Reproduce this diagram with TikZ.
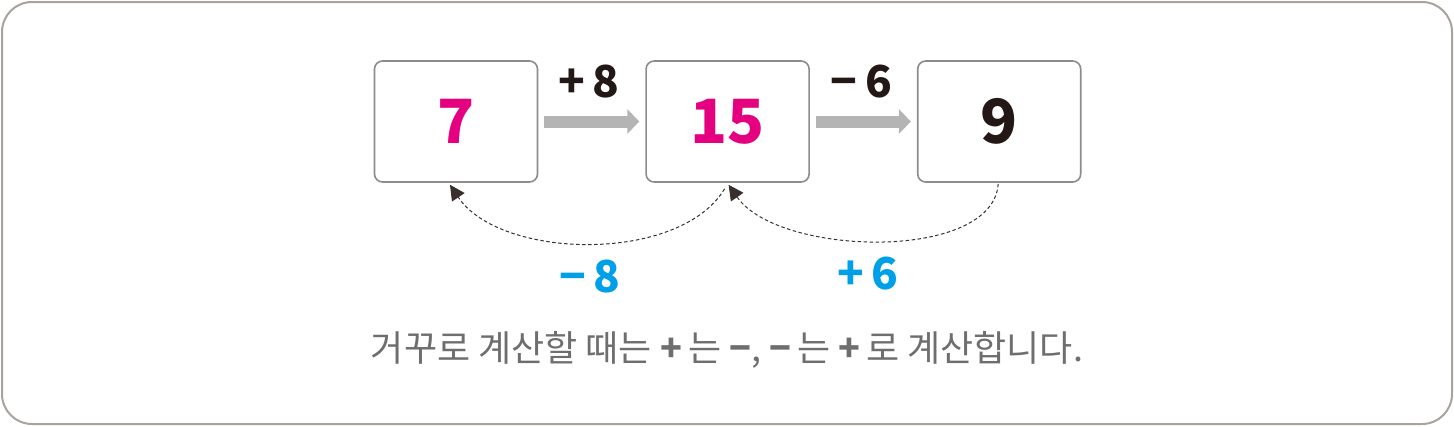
\documentclass[tikz,border=0pt]{standalone}
\usepackage{fontspec}
\setmainfont{Noto Sans CJK KR}
\usepackage{xcolor}
\usepackage{tikz}
\usetikzlibrary{positioning,arrows.meta,calc}

\definecolor{framegray}{HTML}{A8A39D}
\definecolor{boxgray}{HTML}{8C8C8C}
\definecolor{arrowgray}{HTML}{B4B4B4}
\definecolor{numpink}{HTML}{E4007F}
\definecolor{numblue}{HTML}{00A0E9}
\definecolor{numdark}{HTML}{231815}
\definecolor{notegray}{HTML}{6E6E6E}

\begin{document}
\begin{tikzpicture}[x=1pt,y=-1pt,
    numbox/.style={draw=boxgray, line width=1.6pt, rounded corners=8pt,
        minimum width=163pt, minimum height=121pt, inner sep=0pt,
        font=\fontsize{61}{61}\selectfont\bfseries},
    flowarrow/.style={draw=arrowgray, line width=12pt, shorten <=6pt, shorten >=6pt,
        -{Triangle[length=12pt,width=24pt]}},
    backarc/.style={draw=numdark!90, line width=1pt, dash pattern=on 3.5pt off 2.5pt,
        -{Triangle[length=15pt,width=15pt]}},
    oplabel/.style={inner sep=0pt, font=\fontsize{44}{44}\selectfont\bfseries}]
    \useasboundingbox (0,0) rectangle (1454,426);
    \draw[framegray, line width=2pt, rounded corners=30pt] (2,2) rectangle (1452,424);

    % the three boxes
    \node[numbox, text=numpink] (n7) at (456,121.5) {7};
    \node[numbox, text=numpink, right=107pt of n7] (n15) {15};
    \node[numbox, text=numdark, right=107pt of n15] (n9) {9};

    % forward steps
    \draw[flowarrow] (n7) -- (n15)
        node[oplabel, midway, above=17pt, xshift=-3pt, text=numdark] (p8) {+\,8};
    \draw[flowarrow] (n15) -- (n9)
        node[oplabel, midway, above=17pt, xshift=-2pt, text=numdark] (m6) {−\,6};

    % going back
    \draw[backarc] ([shift={(-3,6)}]n15.south) .. controls +(-45,75) and +(50,75) ..
        ([shift={(-6,2)}]n7.south)
        node[oplabel, pos=0.5, below=16pt, xshift=1pt, text=numblue] (m8) {−\,8};
    \draw[backarc] ([shift={(-1,1)}]n9.south) .. controls +(-5,78) and +(50,72) ..
        ([shift={(1,2)}]n15.south)
        node[oplabel, pos=0.5, below=16pt, xshift=-12pt, text=numblue] (p6) {+\,6};

    \node[text=notegray, font=\fontsize{36}{36}\selectfont] (note) at (727,350)
        {거꾸로 계산할 때는 \textbf{+}\,는 \textbf{−}, \textbf{−}\,는 \textbf{+}\,로 계산합니다.};
\end{tikzpicture}
\end{document}
